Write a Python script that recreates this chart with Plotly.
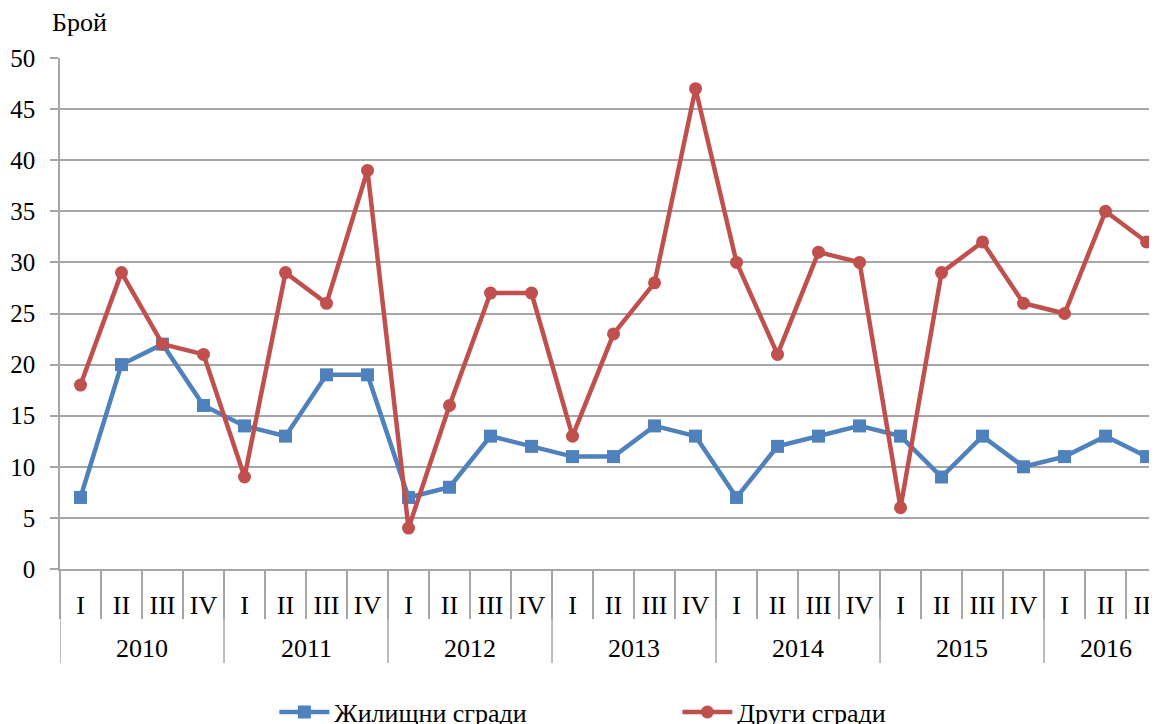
import plotly.graph_objects as go

years = ["2010"] * 4 + ["2011"] * 4 + ["2012"] * 4 + ["2013"] * 4 + ["2014"] * 4 + ["2015"] * 4 + ["2016"] * 3
quarters = ["I", "II", "III", "IV"] * 6 + ["I", "II", "III"]

residential = [7, 20, 22, 16, 14, 13, 19, 19, 7, 8, 13, 12, 11, 11, 14, 13,
               7, 12, 13, 14, 13, 9, 13, 10, 11, 13, 11]
other = [18, 29, 22, 21, 9, 29, 26, 39, 4, 16, 27, 27, 13, 23, 28, 47,
         30, 21, 31, 30, 6, 29, 32, 26, 25, 35, 32]

blue = "#4F81BD"
red = "#C0504D"
grid = "#A6A6A6"
font_family = "Liberation Serif"

# unique category keys, shown as quarter labels
cats = [f"{y}-{q}" for y, q in zip(years, quarters)]
alias = {c: q for c, q in zip(cats, quarters)}

fig = go.Figure()
fig.add_trace(go.Scatter(
    x=cats, y=residential, name="Жилищни сгради",
    mode="lines+markers",
    line=dict(color=blue, width=4.5),
    marker=dict(symbol="square", size=13, color=blue),
))
fig.add_trace(go.Scatter(
    x=cats, y=other, name="Други сгради",
    mode="lines+markers",
    line=dict(color=red, width=4.5),
    marker=dict(symbol="circle", size=13, color=red),
))

plot_h = 511.0  # px height of plot area

year_order = []
for y in years:
    if y not in year_order:
        year_order.append(y)
annotations = []
shapes = []
for y in year_order:
    idx = [i for i, yy in enumerate(years) if yy == y]
    center = (idx[0] + idx[-1]) / 2
    annotations.append(dict(
        text=y, x=center, xref="x", y=-79 / plot_h, yref="paper",
        xanchor="center", yanchor="middle", showarrow=False,
        font=dict(size=26, family=font_family, color="black"),
    ))
    shapes.append(dict(
        type="line", xref="x", yref="paper",
        x0=idx[0] - 0.5, x1=idx[0] - 0.5, y0=0, y1=-94 / plot_h,
        line=dict(color=grid, width=1.5),
    ))

annotations.append(dict(
    text="Брой", xref="paper", yref="paper", x=0.018, y=1 + 36 / plot_h,
    xanchor="center", yanchor="middle", showarrow=False,
    font=dict(size=26, family=font_family, color="black"),
))

fig.update_layout(
    width=1157, height=724,
    margin=dict(l=52, r=0, t=50, b=163, autoexpand=False),
    paper_bgcolor="white", plot_bgcolor="white",
    font=dict(family=font_family, size=26, color="black"),
    showlegend=True,
    legend=dict(
        orientation="h", x=0.194, xanchor="left", y=-0.28, yanchor="middle",
        font=dict(size=26, family=font_family),
        entrywidth=338, itemwidth=50,
    ),
    annotations=annotations,
    shapes=shapes,
)

fig.update_xaxes(
    type="category",
    categoryorder="array", categoryarray=cats,
    range=[-0.5, 26.45],
    tickmode="linear", tick0=0, dtick=1,
    labelalias=alias,
    tickson="boundaries",
    showline=True, linecolor=grid, linewidth=1.5,
    ticks="outside", ticklen=48, tickcolor=grid, tickwidth=1.5,
    showgrid=False,
    ticklabelstandoff=12,
    tickangle=0,
    tickfont=dict(size=26, family=font_family),
)
fig.update_yaxes(
    range=[0, 50], dtick=5,
    showline=True, linecolor=grid, linewidth=1.5,
    showgrid=True, gridcolor=grid, gridwidth=1.5,
    ticks="outside", ticklen=8, tickcolor=grid, tickwidth=1.5,
    zeroline=False,
    ticklabelstandoff=10,
    tickfont=dict(size=25, family=font_family),
)

fig.write_html("out.html")
